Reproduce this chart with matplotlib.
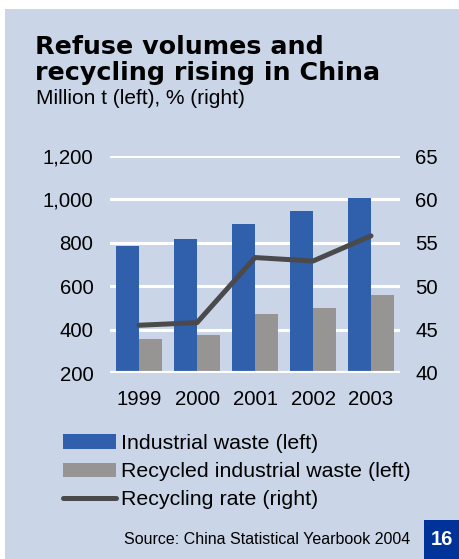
import matplotlib
matplotlib.use("Agg")
import matplotlib.pyplot as plt
from matplotlib.patches import Rectangle, Patch
from matplotlib.lines import Line2D
import numpy as np

plt.rcParams['font.family'] = ['Liberation Sans', 'DejaVu Sans']

years = ["1999", "2000", "2001", "2002", "2003"]
industrial_waste = [785, 817, 887, 946, 1006]
recycled_waste = [357, 375, 472, 500, 559]
recycling_rate = [45.5, 45.8, 53.3, 52.9, 55.8]

left_ticks = [200, 400, 600, 800, 1000, 1200]
right_ticks = [40, 45, 50, 55, 60, 65]

W, H = 459, 559
BG = "#CAD6E8"
BLUE = "#305FAC"
GREY = "#979593"
LINE = "#4A4A4C"
TICK_FS = 14.7

fig = plt.figure(figsize=(W / 100, H / 100), dpi=100)
fig.patch.set_facecolor("white")

def fx(px):
    return px / W

def fy(py):
    return 1 - py / H

# panel background
fig.patches.append(Rectangle((fx(5), 0), fx(W - 5), 1 - 9 / H,
                             transform=fig.transFigure, facecolor=BG,
                             edgecolor="none", zorder=-5))

# title block
title_kw = dict(fontsize=18.3, fontweight="bold", va="baseline", ha="left",
                color="black", family=["DejaVu Sans"])
fig.text(fx(35), fy(54), "Refuse volumes and", **title_kw)
fig.text(fx(35), fy(80), "recycling rising in China", **title_kw)
fig.text(fx(36), fy(104), "Million t (left), % (right)", fontsize=15,
         va="baseline", ha="left", color="black")

# plot area
ax = fig.add_axes([fx(110), fy(373), fx(290), (373 - 156) / H])
ax.set_facecolor("none")
x = np.arange(len(years))
bw = 0.4
ax.bar(x - bw / 2, industrial_waste, width=bw, color=BLUE, zorder=3)
ax.bar(x + bw / 2, recycled_waste, width=bw, color=GREY, zorder=3)
ax.set_ylim(200, 1200)
ax.set_xlim(-0.5, len(years) - 0.5)
ax.set_yticks(left_ticks)
ax.set_yticklabels([f"{v:,}" for v in left_ticks])
ax.set_xticks(x)
ax.set_xticklabels(years)
for sp in ax.spines.values():
    sp.set_visible(False)
for v in left_ticks[1:]:
    ax.axhline(v, color="white", lw=2.2, zorder=1)
ax.axhline(200, color="white", lw=3, zorder=4, solid_capstyle="round")
ax.tick_params(axis="y", length=0, pad=12, labelsize=TICK_FS)
ax.tick_params(axis="x", length=0, pad=12, labelsize=TICK_FS)

ax2 = ax.twinx()
ax2.plot(x, recycling_rate, color=LINE, lw=3.6, solid_capstyle="round",
         solid_joinstyle="round", zorder=5)
ax2.set_ylim(40, 65)
ax2.set_yticks(right_ticks)
for sp in ax2.spines.values():
    sp.set_visible(False)
ax2.tick_params(axis="y", length=0, pad=11, labelsize=TICK_FS)

# legend
handles = [Patch(facecolor=BLUE, edgecolor="none"),
           Patch(facecolor=GREY, edgecolor="none"),
           Line2D([0], [0], color=LINE, lw=3.6, solid_capstyle="round")]
labels = ["Industrial waste (left)", "Recycled industrial waste (left)",
          "Recycling rate (right)"]
fig.legend(handles, labels, loc="upper left",
           bbox_to_anchor=(fx(63), fy(434)), frameon=False,
           fontsize=15.4, handlelength=2.5, handleheight=0.65,
           handletextpad=0.22, labelspacing=0.43, borderaxespad=0,
           borderpad=0)

# source and page number
fig.text(fx(410), fy(540), "Source: China Statistical Yearbook 2004",
         fontsize=11.5, ha="right", va="center", color="black")
fig.patches.append(Rectangle((fx(424), 0), fx(W - 424), 39 / H,
                             transform=fig.transFigure, facecolor="#003399",
                             edgecolor="none", zorder=1))
fig.text(fx(441.5), fy(539.5), "16", fontsize=14.5, fontweight="bold",
         color="white", ha="center", va="center")

fig.savefig("out.png", dpi=100, facecolor=fig.get_facecolor())
